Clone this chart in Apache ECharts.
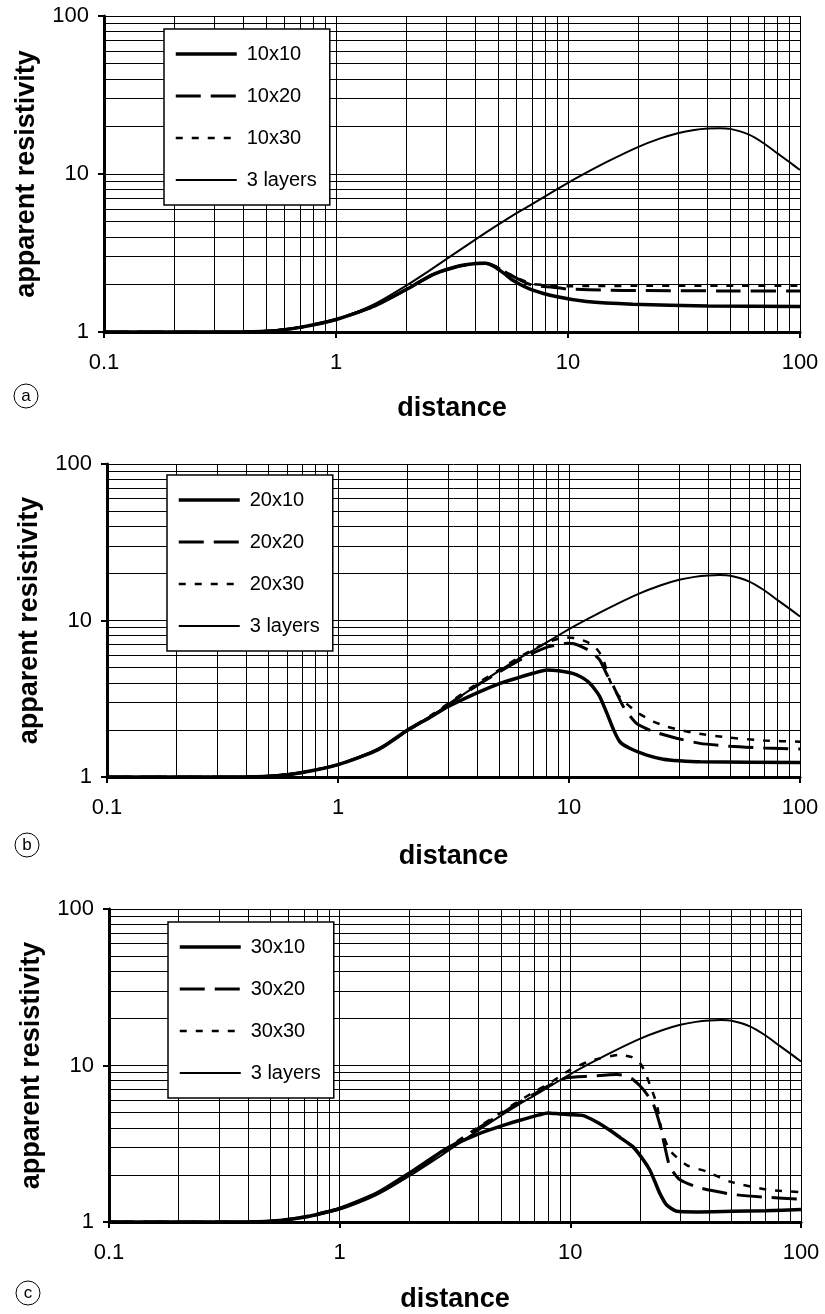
<!DOCTYPE html>
<html>
<head>
<meta charset="utf-8">
<script src="https://cdn.jsdelivr.net/npm/echarts@6/dist/echarts.min.js"></script>
<style>
html,body{margin:0;padding:0;background:#fff;}
#chart{width:825px;height:1314px;}
</style>
</head>
<body>
<div id="chart"></div>
<script>
// ---------- data ----------
const panelLetters = ['a', 'b', 'c'];
const xAxisTitle = 'distance';
const yAxisTitle = 'apparent resistivity';
const minorGridX = [0.2,0.3,0.4,0.5,0.6,0.7,0.8,0.9,2,3,4,5,6,7,8,9,20,30,40,50,60,70,80,90];
const minorGridY = [2,3,4,5,6,7,8,9,20,30,40,50,60,70,80,90];

const threeLayers = [[0.1,1],[0.2,1],[0.3,1.0],[0.4,1.005],[0.5,1.02],[0.6,1.04],[0.7,1.07],[0.8,1.11],[1,1.2],[1.2,1.32],[1.5,1.53],[2,1.96],[2.5,2.42],[3,2.9],[4,3.86],[5,4.78],[6,5.65],[7,6.45],[8,7.25],[10,8.8],[12,10.2],[15,12.1],[20,14.8],[25,16.8],[30,18.2],[35,19.0],[40,19.4],[45,19.5],[50,19.3],[60,17.8],[70,15.6],[80,13.5],[90,11.9],[100,10.6]];

// panel a
const a10x10 = [[0.1,1],[0.3,1],[0.5,1.01],[0.7,1.07],[1,1.2],[1.45,1.45],[2,1.85],[2.6,2.3],[3.3,2.59],[4,2.71],[4.4,2.72],[4.8,2.6],[5.3,2.35],[5.8,2.12],[7,1.85],[9,1.67],[12,1.56],[19,1.5],[40,1.46],[100,1.45]];
const a10x20 = [[0.1,1],[0.3,1],[0.5,1.01],[0.7,1.07],[1,1.2],[1.45,1.45],[2,1.85],[2.6,2.3],[3.3,2.59],[4,2.71],[4.4,2.72],[4.8,2.62],[5.3,2.42],[6,2.19],[7,1.98],[8.6,1.92],[10,1.87],[15,1.84],[20,1.83],[50,1.82],[100,1.82]];
const a10x30 = [[0.1,1],[0.3,1],[0.5,1.01],[0.7,1.07],[1,1.2],[1.45,1.46],[2,1.86],[2.6,2.31],[3.3,2.6],[4,2.72],[4.4,2.73],[4.8,2.63],[5.3,2.43],[6,2.2],[7,2.02],[8,1.98],[10,1.95],[20,1.96],[50,1.96],[100,1.96]];

// panel b
const b20x10 = [[0.1,1],[0.3,1],[0.5,1.01],[0.7,1.07],[1,1.2],[1.5,1.5],[2,2.0],[2.5,2.4],[3,2.82],[4,3.45],[5,3.95],[6,4.3],[7,4.6],[8,4.83],[9,4.78],[10,4.65],[10.8,4.5],[11.6,4.25],[12.3,3.97],[13,3.6],[13.6,3.26],[14.6,2.55],[15.6,2.0],[16.6,1.68],[18.4,1.52],[21.7,1.38],[25.6,1.3],[30,1.27],[37,1.25],[100,1.24]];
const b20x20 = [[0.1,1],[0.3,1],[0.5,1.01],[0.7,1.07],[1,1.2],[1.5,1.5],[2,1.98],[2.5,2.42],[3,2.9],[4,3.85],[5,4.7],[6,5.5],[7,6.2],[8,6.74],[9,7.0],[9.8,7.15],[10.5,7.1],[11.5,6.74],[12.5,6.3],[13.6,5.59],[14.5,4.6],[15.6,3.78],[17.2,2.81],[19.6,2.2],[23.2,1.95],[29.2,1.77],[36.9,1.64],[50,1.57],[70,1.53],[100,1.51]];
const b20x30 = [[0.1,1],[0.3,1],[0.5,1.01],[0.7,1.07],[1,1.2],[1.5,1.51],[2,2.0],[2.5,2.45],[3,2.95],[4,3.95],[5,4.85],[6,5.75],[7,6.55],[8,7.2],[9,7.65],[9.8,7.8],[10.8,7.7],[11.8,7.35],[12.7,6.97],[13.5,6.3],[14.1,5.59],[15,4.17],[16.1,3.42],[17.5,3.0],[18.4,2.81],[20,2.55],[23.2,2.26],[26.5,2.1],[30,2.0],[35.7,1.9],[50,1.78],[70,1.71],[100,1.68]];

// panel c
const c30x10 = [[0.1,1],[0.3,1],[0.5,1.01],[0.7,1.07],[1,1.22],[1.45,1.53],[2,2.05],[2.9,2.94],[4,3.66],[5,4.1],[6,4.45],[7,4.75],[8,4.98],[9,4.9],[10,4.85],[11.4,4.78],[13,4.35],[14.9,3.84],[16.5,3.45],[18.7,3.02],[20.5,2.55],[22.1,2.15],[23.3,1.8],[24.4,1.53],[26.1,1.29],[28.9,1.17],[35,1.16],[50,1.17],[70,1.18],[100,1.2]];
const c30x20 = [[0.1,1],[0.3,1],[0.5,1.01],[0.7,1.08],[1,1.22],[1.5,1.55],[2,2.0],[3,3.0],[4,3.98],[5,4.9],[6,5.8],[7,6.6],[8,7.4],[9.6,8.34],[12.2,8.55],[15.9,8.75],[17.5,8.6],[18.7,8.14],[20.7,7.04],[22.9,5.66],[24.4,4.23],[25.7,3.02],[27,2.26],[29.9,1.86],[36.5,1.65],[50.8,1.5],[70,1.44],[100,1.4]];
const c30x30 = [[0.1,1],[0.3,1],[0.5,1.01],[0.7,1.08],[1,1.22],[1.5,1.56],[2,2.02],[3,3.05],[4,4.05],[5,5.0],[6,5.95],[7,6.8],[8,7.6],[10,9.4],[12,10.6],[13.4,11.1],[16.4,11.7],[18.5,11.3],[20,10.4],[21,9.2],[22.1,7.57],[23.7,5.66],[24.9,3.84],[27,2.87],[31.9,2.31],[39,2.1],[49.2,1.81],[71,1.61],[100,1.55]];

const panelSeries = [
  [['10x10', a10x10], ['10x20', a10x20], ['10x30', a10x30], ['3 layers', threeLayers]],
  [['20x10', b20x10], ['20x20', b20x20], ['20x30', b20x30], ['3 layers', threeLayers]],
  [['30x10', c30x10], ['30x20', c30x20], ['30x30', c30x30], ['3 layers', threeLayers]]
];

// ---------- layout / styles ----------
const FONT = "'Liberation Sans', Arial, sans-serif";
const grids = [
  {left: 104, top: 16, width: 696, height: 316},
  {left: 107, top: 464, width: 693, height: 313},
  {left: 109, top: 909, width: 692, height: 317}
];
const xNameGaps = [63, 66, 64];
const legendPos = [{left: 164, top: 29}, {left: 167, top: 475}, {left: 168, top: 922}];
const circlePos = [[26, 396], [27, 845], [28, 1293]];
const styles = [
  {width: 3.5, type: 'solid'},
  {width: 3, type: [25, 10]},
  {width: 2.5, type: [7, 9]},
  {width: 2, type: 'solid'}
];
const clear = 'rgba(0,0,0,0)';

const option = {
  animation: false,
  backgroundColor: '#fff',
  textStyle: {fontFamily: FONT, color: '#000'},
  grid: grids.map(g => Object.assign({containLabel: false}, g)),
  xAxis: grids.map((g, i) => ({
    type: 'log', logBase: 10, min: 0.1, max: 100, gridIndex: i,
    name: xAxisTitle, nameLocation: 'middle', nameGap: xNameGaps[i],
    nameTextStyle: {fontFamily: FONT, fontWeight: 'bold', fontSize: 27, color: '#000'},
    axisLine: {show: true, onZero: false, lineStyle: {color: '#000', width: 3}},
    axisTick: {show: true, length: 6, inside: false, lineStyle: {color: '#000', width: 2}},
    axisLabel: {fontFamily: FONT, fontSize: 22, color: '#000', margin: 20},
    splitLine: {show: true, lineStyle: {color: '#000', width: 1}},
    minorTick: {show: false}, minorSplitLine: {show: false}
  })),
  yAxis: grids.map((g, i) => ({
    type: 'log', logBase: 10, min: 1, max: 100, gridIndex: i,
    name: yAxisTitle, nameLocation: 'middle', nameGap: 64,
    nameTextStyle: {fontFamily: FONT, fontWeight: 'bold', fontSize: 27, color: '#000'},
    axisLine: {show: true, onZero: false, lineStyle: {color: '#000', width: 3}},
    axisTick: {show: true, length: 6, inside: false, lineStyle: {color: '#000', width: 2}},
    axisLabel: {fontFamily: FONT, fontSize: 22, color: '#000', margin: 15},
    splitLine: {show: true, lineStyle: {color: '#000', width: 1}},
    minorTick: {show: false}, minorSplitLine: {show: false}
  })),
  legend: panelSeries.map((ps, i) => ({
    z: 50,
    left: legendPos[i].left, top: legendPos[i].top,
    orient: 'vertical',
    data: ps.map((s, k) => ({
      name: s[0],
      lineStyle: {color: '#000', width: styles[k].width, type: styles[k].type, opacity: 1},
      itemStyle: {color: clear, borderColor: clear, borderWidth: 0}
    })),
    itemWidth: 61, itemHeight: 14, itemGap: 22,
    padding: [15, 13, 15, 10],
    backgroundColor: '#fff', borderColor: '#000', borderWidth: 1.5, borderRadius: 0,
    selectedMode: false,
    textStyle: {fontFamily: FONT, fontSize: 20, lineHeight: 20, color: '#000', padding: [0, 0, 0, 5]}
  })),
  graphic: circlePos.map((p, i) => ({
    type: 'group', z: 60, children: [
      {type: 'circle', shape: {cx: p[0], cy: p[1], r: 12}, style: {fill: '#fff', stroke: '#000', lineWidth: 1}},
      {type: 'text', x: p[0], y: p[1], style: {text: panelLetters[i], fontFamily: FONT, fontSize: 17, fill: '#000', align: 'center', verticalAlign: 'middle'}}
    ]
  })),
  series: []
};

panelSeries.forEach((ps, i) => {
  option.series.push({
    type: 'line', xAxisIndex: i, yAxisIndex: i, data: [], silent: true, z: 1,
    markLine: {
      silent: true, symbol: ['none', 'none'], animation: false,
      label: {show: false},
      emphasis: {disabled: true},
      lineStyle: {color: '#000', width: 1, type: 'solid'},
      data: minorGridX.map(v => ({xAxis: v})).concat(minorGridY.map(v => ({yAxis: v})))
    }
  });
  ps.forEach((s, k) => {
    option.series.push({
      name: s[0], type: 'line', xAxisIndex: i, yAxisIndex: i, z: 3,
      data: s[1], symbol: 'none', showSymbol: false,
      smooth: 0.2,
      lineStyle: {color: '#000', width: styles[k].width, type: styles[k].type},
      itemStyle: {color: '#000'},
      emphasis: {disabled: true}
    });
  });
});

const chart = echarts.init(document.getElementById('chart'), null, {renderer: 'canvas'});
chart.setOption(option);
</script>
</body>
</html>
